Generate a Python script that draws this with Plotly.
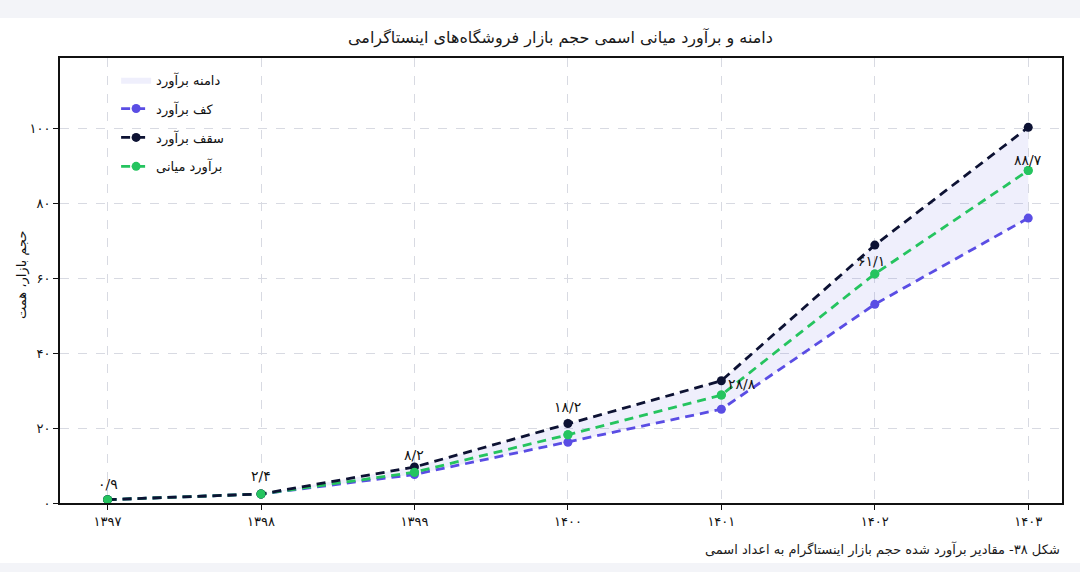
import plotly.graph_objects as go

# داده‌ها (همت)
years = [1397, 1398, 1399, 1400, 1401, 1402, 1403]
kaf = [0.9, 2.4, 7.6, 16.2, 25.0, 53.0, 76.0]       # کف برآورد
saqf = [0.9, 2.4, 9.6, 21.2, 32.6, 68.8, 100.2]     # سقف برآورد
miyani = [0.9, 2.4, 8.2, 18.2, 28.8, 61.1, 88.7]    # برآورد میانی
y_ticks = [0, 20, 40, 60, 80, 100]

FA_DIGITS = str.maketrans('0123456789.', '۰۱۲۳۴۵۶۷۸۹/')


def fa(v):
    return str(v).translate(FA_DIGITS)


FONT = 'DejaVu Sans'
c_kaf = '#5a4de4'
c_saqf = '#0d1233'
c_mid = '#25c45f'
DASH = '9px,6px'

fig = go.Figure()

# دامنه برآورد
fig.add_trace(go.Scatter(x=years, y=kaf, mode='lines', line=dict(width=0),
                         showlegend=False, hoverinfo='skip'))
fig.add_trace(go.Scatter(x=years, y=saqf, mode='lines', line=dict(width=0),
                         fill='tonexty', fillcolor='rgba(120,120,230,0.12)',
                         name='دامنه برآورد', legendrank=1, legendgroup='a'))

fig.add_trace(go.Scatter(x=years, y=kaf, mode='lines+markers',
                         line=dict(color=c_kaf, width=2.8, dash=DASH),
                         marker=dict(size=9, color=c_kaf),
                         name='کف برآورد', legendrank=2, legendgroup='b'))
fig.add_trace(go.Scatter(x=years, y=miyani, mode='lines+markers',
                         line=dict(color=c_mid, width=2.8, dash=DASH),
                         marker=dict(size=9, color=c_mid),
                         name='برآورد میانی', legendrank=4, legendgroup='d'))
fig.add_trace(go.Scatter(x=years, y=saqf, mode='lines+markers',
                         line=dict(color=c_saqf, width=2.8, dash=DASH),
                         marker=dict(size=9, color=c_saqf),
                         name='سقف برآورد', legendrank=3, legendgroup='c'))
# نقاط میانی روی بقیه
fig.add_trace(go.Scatter(x=years, y=miyani, mode='markers',
                         marker=dict(size=9, color=c_mid),
                         showlegend=False, hoverinfo='skip'))

# برچسب مقادیر میانی
shifts = [(0, 16), (0, 18), (0, 17), (0, 28), (21, 11), (-3, 13), (0, 10)]
for x, v, (dx, dy) in zip(years, miyani, shifts):
    fig.add_annotation(x=x, y=v, text=fa(v), showarrow=False,
                       xshift=dx, yshift=dy,
                       font=dict(family=FONT, size=14, color='#111111'))

# نوارهای خاکستری بالا و پایین
fig.add_shape(type='rect', xref='paper', yref='paper', x0=-0.1, x1=1.1,
              y0=(503 - 18) / 445, y1=1.2,
              fillcolor='#f3f4f8', line=dict(width=0), layer='below')
fig.add_shape(type='rect', xref='paper', yref='paper', x0=-0.1, x1=1.1,
              y0=-0.3, y1=-(563 - 503) / 445,
              fillcolor='#f3f4f8', line=dict(width=0), layer='below')

fig.add_annotation(text='دامنه و برآورد میانی اسمی حجم بازار فروشگاه‌های اینستاگرامی',
                   xref='paper', yref='paper', x=(560 - 60) / 1002, y=(503 - 38) / 445,
                   yanchor='middle', showarrow=False,
                   font=dict(family=FONT, size=16, color='#1a1a1a'))
fig.add_annotation(text='شکل ۳۸- مقادیر برآورد شده حجم بازار اینستاگرام به اعداد اسمی',
                   xref='paper', yref='paper', x=1.0, y=-(549 - 503) / 445,
                   xanchor='right', yanchor='middle', showarrow=False,
                   font=dict(family=FONT, size=13, color='#1a1a1a'))
# عنوان محور عمودی
fig.add_annotation(text='حجم بازار، همت', textangle=-90,
                   xref='paper', yref='paper', x=(22 - 60) / 1002, y=(503 - 275) / 445,
                   xanchor='center', yanchor='middle', showarrow=False,
                   font=dict(family=FONT, size=13, color='#111111'))

fig.update_xaxes(range=[1396.69, 1403.22], tickvals=years,
                 ticktext=[fa(y) for y in years], automargin=False,
                 showline=True, linecolor='#111111', linewidth=2, mirror=True,
                 ticks='outside', ticklen=5, tickcolor='#111111',
                 showgrid=True, gridcolor='#d8dae2', griddash='dash', gridwidth=1,
                 zeroline=False, tickfont=dict(family=FONT, size=13, color='#111111'))
fig.update_yaxes(range=[0, 118.7], tickvals=y_ticks,
                 ticktext=[fa(v) for v in y_ticks], automargin=False,
                 showline=True, linecolor='#111111', linewidth=2, mirror=True,
                 ticks='outside', ticklen=5, tickcolor='#111111',
                 showgrid=True, gridcolor='#d8dae2', griddash='dash', gridwidth=1,
                 zeroline=False, tickfont=dict(family=FONT, size=13, color='#111111'))

fig.update_layout(width=1080, height=572,
                  margin=dict(l=60, r=18, t=58, b=69),
                  paper_bgcolor='white', plot_bgcolor='white',
                  font=dict(family=FONT, color='#111111'),
                  showlegend=True,
                  legend=dict(x=0.056, y=0.985, xanchor='left', yanchor='top',
                              bgcolor='rgba(0,0,0,0)', tracegroupgap=9,
                              font=dict(family=FONT, size=13, color='#111111')),
                  hovermode=False)

fig.write_html('out.html', config={'displayModeBar': False},
               post_script="document.body.style.margin='0';")
